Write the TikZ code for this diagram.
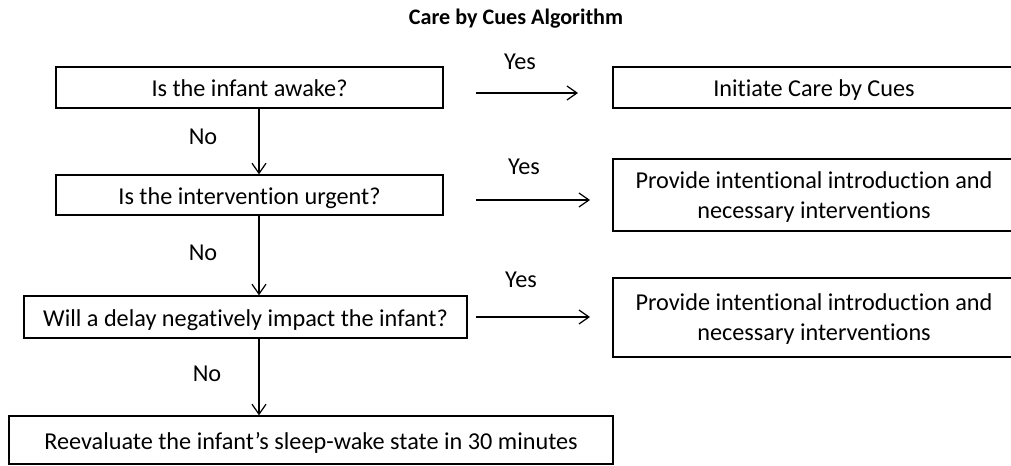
\documentclass[tikz,border=0pt]{standalone}
\usepackage{fontspec}
\setmainfont{Carlito}[Ligatures=NoCommon]
\usetikzlibrary{arrows.meta}

\begin{document}
\begin{tikzpicture}[x=0.02cm, y=-0.02cm,
	box/.style={draw, line width=0.8pt, inner sep=0pt, align=center, font=\fontsize{13.8}{17}\selectfont},
	oneline/.style={text height=10.5pt, text depth=0pt},
	arr/.style={line width=0.7pt, -{Straight Barb[length=2mm, width=2.8mm]}},
	lbl/.style={font=\fontsize{13.8}{16}\selectfont}]
		%%%%% START %%%%%
		\useasboundingbox (0,0) rectangle (1011,466);
		
		\node[font=\bfseries\fontsize{12.6}{14}\selectfont] (title) at (516,19) {Care by Cues Algorithm};
		
		% question column
		\node[box, oneline, minimum width=7.74cm, minimum height=0.82cm] (awake) at (249.5,87.5) {Is the infant awake?};
		\node[box, oneline, minimum width=7.74cm, minimum height=0.80cm] (urgent) at (249.5,195) {Is the intervention urgent?};
		\node[box, oneline, minimum width=8.86cm, minimum height=0.84cm] (delay) at (245.5,317) {Will a delay negatively impact the infant?};
		\node[box, oneline, minimum width=12.08cm, minimum height=0.96cm] (reeval) at (311,440) {Reevaluate the infant’s sleep-wake state in 30 minutes};
		
		% answer column
		\node[box, oneline, minimum width=8.04cm, minimum height=0.82cm] (initiate) at (814,87.5) {Initiate Care by Cues};
		\node[box, text depth=-3.4pt, minimum width=8.04cm, minimum height=1.44cm] (provideA) at (814,195) {Provide intentional introduction and\\necessary interventions};
		\node[box, text depth=0pt, minimum width=8.04cm, minimum height=1.58cm] (provideB) at (814,317.5) {Provide intentional introduction and\\necessary interventions};
		
		% no arrows
		\coordinate (spine) at (259,0);
		\draw[arr] (awake.south -| spine) -- (urgent.north -| spine);
		\draw[arr] (urgent.south -| spine) -- (delay.north -| spine);
		\draw[arr] (delay.south -| spine) -- (reeval.north -| spine);
		\node[lbl] (noA) at (203,137) {No};
		\node[lbl] (noB) at (203,253) {No};
		\node[lbl] (noC) at (207,374) {No};
		
		% yes arrows
		\coordinate (yesAs) at (476,93);  \coordinate (yesAe) at (578,93);
		\coordinate (yesBs) at (476,200); \coordinate (yesBe) at (590,200);
		\coordinate (yesCs) at (476,317); \coordinate (yesCe) at (590,317);
		\draw[arr] (yesAs) -- (yesAe);
		\draw[arr] (yesBs) -- (yesBe);
		\draw[arr] (yesCs) -- (yesCe);
		\node[lbl] (yesA) at (520,62) {Yes};
		\node[lbl] (yesB) at (524,167) {Yes};
		\node[lbl] (yesC) at (521,280) {Yes};
		%%%%% END %%%%%
\end{tikzpicture}
\end{document}
